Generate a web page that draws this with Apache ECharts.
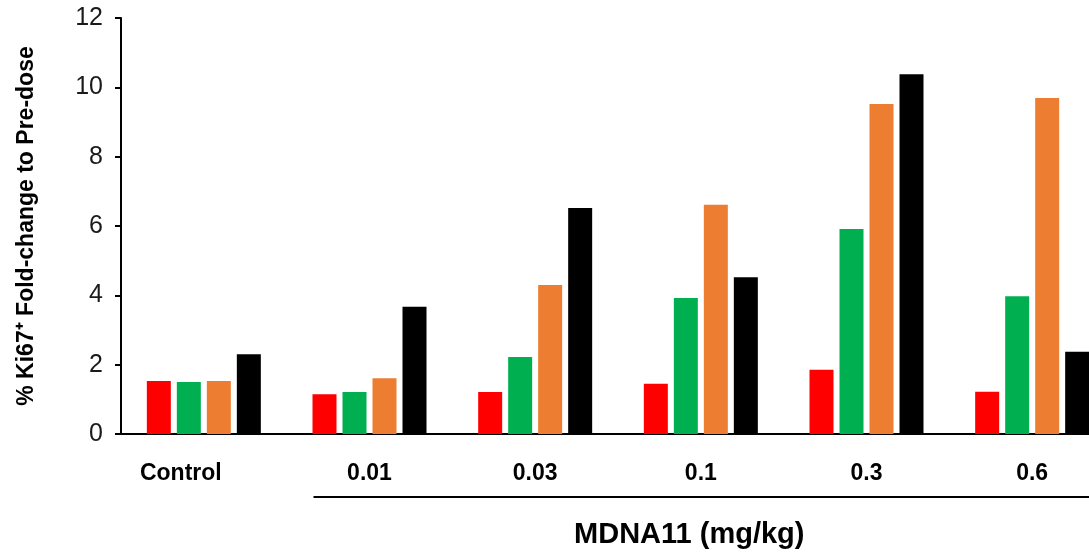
<!DOCTYPE html>
<html>
<head>
<meta charset="utf-8">
<script src="https://cdn.jsdelivr.net/npm/echarts@6/dist/echarts.min.js"></script>
<style>
html,body{margin:0;padding:0;background:#fff;overflow:hidden;}
#main{width:1089px;height:553px;}
</style>
</head>
<body>
<div id="main"></div>
<script>
const categories = ['Control', '0.01', '0.03', '0.1', '0.3', '0.6'];
const seriesRed    = [1.53, 1.15, 1.21, 1.45, 1.85, 1.22];
const seriesGreen  = [1.50, 1.21, 2.22, 3.92, 5.91, 3.97];
const seriesOrange = [1.53, 1.61, 4.30, 6.61, 9.52, 9.69];
const seriesBlack  = [2.30, 3.67, 6.52, 4.52, 10.38, 2.37];
const yTicks = [0, 2, 4, 6, 8, 10, 12];
const yTitle = '% Ki67\u207A Fold-change to Pre-dose';
const xTitle = 'MDNA11 (mg/kg)';

const chart = echarts.init(document.getElementById('main'), null, {renderer: 'canvas'});
function bar(name, data, color) {
  return {
    name: name, type: 'bar', data: data, barWidth: 24, barGap: '25%',
    itemStyle: {color: color}, silent: true, animation: false
  };
}
const option = {
  animation: false,
  backgroundColor: '#fff',
  grid: {left: 121, top: 18, bottom: 119, width: 994, containLabel: false, outerBoundsMode: 'none'},
  xAxis: {
    type: 'category', data: categories,
    axisLine: {lineStyle: {color: '#000', width: 2}},
    axisTick: {show: false},
    axisLabel: {
      margin: 28, color: '#000', fontWeight: 'bold', fontSize: 23,
      fontFamily: 'Liberation Sans, Arial, sans-serif',
      formatter: function (v) { return v === 'Control' ? '{c|' + v + '}' : v; },
      rich: {c: {fontFamily: 'Liberation Sans, Arial, sans-serif', fontWeight: 'bold', fontSize: 23, color: '#000', padding: [0, 46, 0, 0]}}
    }
  },
  yAxis: {
    type: 'value', min: yTicks[0], max: yTicks[yTicks.length - 1], interval: 2,
    axisLine: {show: true, lineStyle: {color: '#000', width: 2}},
    axisTick: {show: true, length: 6, lineStyle: {color: '#000', width: 2}},
    splitLine: {show: false},
    axisLabel: {margin: 18, color: '#1a1a1a', fontSize: 25, fontFamily: 'Liberation Sans, Arial, sans-serif'},
    name: yTitle, nameLocation: 'middle', nameGap: 83, nameRotate: 90,
    nameTextStyle: {color: '#000', fontWeight: 'bold', fontSize: 23, fontFamily: 'Liberation Sans, Arial, sans-serif'}
  },
  series: [
    bar('Red', seriesRed, '#ff0000'),
    bar('Green', seriesGreen, '#00b050'),
    bar('Orange', seriesOrange, '#ed7d31'),
    bar('Black', seriesBlack, '#000000')
  ]
};
chart.setOption(option);

const p1 = chart.convertToPixel({xAxisIndex: 0}, '0.01');
const p0 = chart.convertToPixel({yAxisIndex: 0}, 0);
const lineStart = p1 - 56;
chart.setOption({
  graphic: [
    {type: 'line', shape: {x1: lineStart, y1: p0 + 63, x2: 1089, y2: p0 + 63},
     style: {stroke: '#000', lineWidth: 2}, silent: true},
    {type: 'text', x: (lineStart + 1089) / 2 - 12, y: p0 + 101,
     style: {text: xTitle, fill: '#000', font: 'bold 29px "Liberation Sans", Arial, sans-serif', align: 'center', verticalAlign: 'middle'}, silent: true}
  ]
});
</script>
</body>
</html>
